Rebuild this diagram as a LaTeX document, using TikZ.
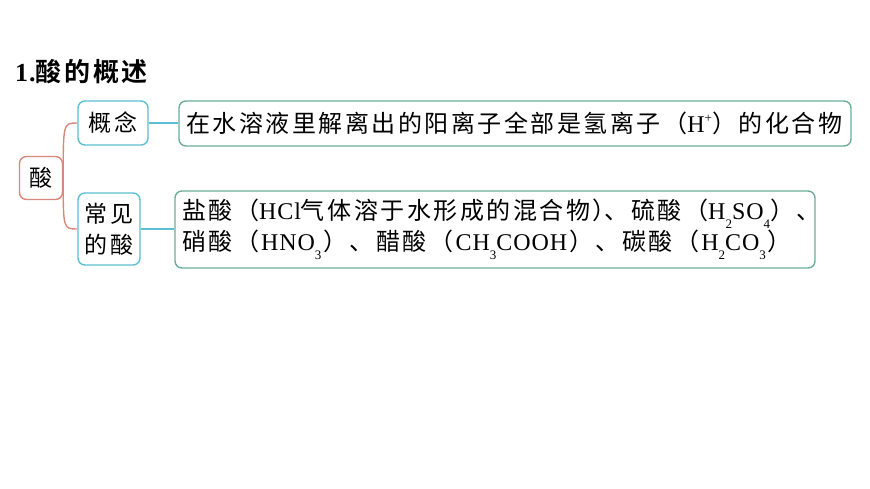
\documentclass[tikz,border=0pt]{standalone}
\usepackage{fontspec}
\setmainfont{Noto Sans CJK SC}[BoldFont={Noto Sans CJK SC Bold}, LetterSpace=10.5]
\newfontfamily\lat{Liberation Serif}[LetterSpace=4]
\usetikzlibrary{calc,backgrounds}
\definecolor{salmon}{HTML}{D8877A}
\definecolor{skyb}{HTML}{5DBFD3}
\definecolor{tealg}{HTML}{6BAE9B}
\newcommand\mysubs[1]{\raisebox{-0.8ex}{\fontsize{13}{13}\selectfont\lat #1}}
\newcommand\mysups[1]{\raisebox{0.9ex}{\fontsize{13}{13}\selectfont\lat #1}}
\begin{document}
\begin{tikzpicture}[x=1pt,y=-1pt,
  box/.style={draw, rounded corners=7pt, line width=1.4pt, fill=white, inner sep=0pt, align=center, font=\fontsize{23}{31}\selectfont},
  rootbox/.style={box, draw=salmon, minimum width=43pt, minimum height=43pt},
  catbox/.style={box, draw=skyb},
  detbox/.style={box, draw=tealg, align=left, inner xsep=7pt, font=\fontsize{24}{31}\selectfont},
  title/.style={inner sep=0pt, anchor=west, font=\fontsize{26}{30}\selectfont\bfseries},
  rootline/.style={draw=salmon, line width=1.4pt},
  catline/.style={draw=skyb, line width=1.4pt}]
\useasboundingbox (0,0) rectangle (870,489);
\node[title] (t) at (15,72) {{\lat 1.}酸的概述};
\node[rootbox] (root) at (41,178) {酸};
\node[catbox, minimum width=70pt, minimum height=44pt] (gn) at (113,123) {概念};
\node[catbox, minimum width=62pt, minimum height=72pt] (cj) at (109,229) {常见\\的酸};
\node[detbox, minimum width=672pt, minimum height=45pt, text width=658pt] (def) at (515,123.5)
  {在水溶液里解离出的阳离子全部是氢离子（{\lat H\mysups{+}}）的化合物};
\node[detbox, minimum width=640pt, minimum height=77pt, text width=626pt] (ex) at (495,229.5)
  {盐酸（{\lat HCl}气体溶于水形成的混合物）\kern-.5em、硫酸（{\lat H\mysubs{2}SO\mysubs{4}}）、\\
   硝酸（\kern2pt{\lat HNO\mysubs{3}}\kern2pt）、醋酸（\kern2pt{\lat CH\mysubs{3}COOH}\kern2pt）、碳酸（\kern2pt{\lat H\mysubs{2}CO\mysubs{3}}\kern2pt）};
\begin{pgfonlayer}{background}
\draw[rootline] (root.east) .. controls (root.east|-gn.west) .. (gn.west);
\draw[rootline] (root.east) .. controls (root.east|-cj.west) .. (cj.west);
\end{pgfonlayer}
\draw[catline] (gn.east) -- (gn.east-|def.west);
\draw[catline] (cj.east) -- (cj.east-|ex.west);
\end{tikzpicture}
\end{document}
